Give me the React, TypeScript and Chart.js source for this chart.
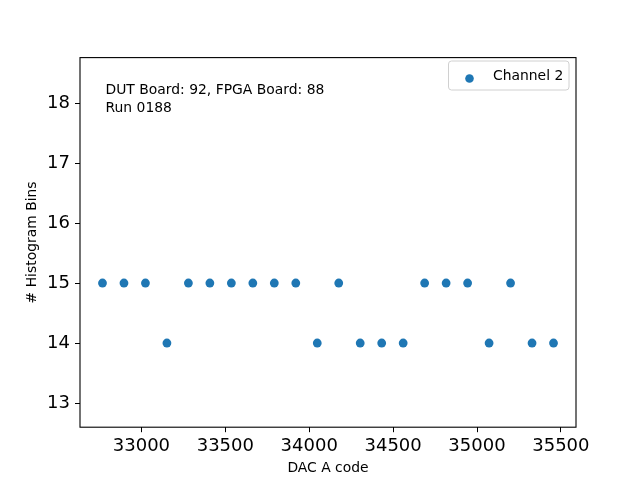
import React, { useEffect, useRef } from "react";
import { Chart, registerables } from "chart.js";

Chart.register(...registerables);

const dacCodes = [
  32768, 32896, 33024, 33152, 33280, 33408, 33536, 33664, 33792, 33920, 34048,
  34176, 34304, 34432, 34560, 34688, 34816, 34944, 35072, 35200, 35328, 35456,
];
const histBins = [15, 15, 15, 14, 15, 15, 15, 15, 15, 15, 14, 15, 14, 14, 14, 15, 15, 15, 14, 15, 14, 14];
const xTicks = [33000, 33500, 34000, 34500, 35000, 35500];
const yTicks = [13, 14, 15, 16, 17, 18];
const seriesLabel = "Channel 2";
const annotationLines = ["DUT Board: 92, FPGA Board: 88", "Run 0188"];
const xTitle = "DAC A code";
const yTitle = "# Histogram Bins";

const FONT = "'DejaVu Sans', sans-serif";
const BLUE = "#1f77b4";

export default function App() {
  const ref = useRef<HTMLCanvasElement | null>(null);

  useEffect(() => {
    document.body.style.margin = "0";
    const canvas = ref.current;
    if (!canvas) return;

    const overlay = {
      id: "overlay",
      afterDraw(chart: any) {
        const ctx = chart.ctx;
        const a = chart.chartArea;
        ctx.save();
        // spines
        ctx.strokeStyle = "#000";
        ctx.lineWidth = 1.1;
        ctx.strokeRect(a.left, a.top, a.right - a.left, a.bottom - a.top);
        // annotation
        ctx.fillStyle = "#000";
        ctx.font = `13.9px ${FONT}`;
        ctx.textAlign = "left";
        ctx.textBaseline = "middle";
        annotationLines.forEach((t, i) => {
          ctx.fillText(t, 105.5, 90.5 + i * 17.5);
        });
        // legend
        const lx = 448.5, ly = 61, lw = 120.5, lh = 29, r = 3;
        ctx.beginPath();
        ctx.moveTo(lx + r, ly);
        ctx.lineTo(lx + lw - r, ly);
        ctx.arcTo(lx + lw, ly, lx + lw, ly + r, r);
        ctx.lineTo(lx + lw, ly + lh - r);
        ctx.arcTo(lx + lw, ly + lh, lx + lw - r, ly + lh, r);
        ctx.lineTo(lx + r, ly + lh);
        ctx.arcTo(lx, ly + lh, lx, ly + lh - r, r);
        ctx.lineTo(lx, ly + r);
        ctx.arcTo(lx, ly, lx + r, ly, r);
        ctx.closePath();
        ctx.fillStyle = "rgba(255,255,255,0.8)";
        ctx.fill();
        ctx.strokeStyle = "#d0d0d0";
        ctx.lineWidth = 1;
        ctx.stroke();
        ctx.beginPath();
        ctx.arc(469.5, 78.5, 4.3, 0, Math.PI * 2);
        ctx.fillStyle = BLUE;
        ctx.fill();
        ctx.fillStyle = "#000";
        ctx.font = `13.9px ${FONT}`;
        ctx.textBaseline = "middle";
        ctx.fillText(chart.data.datasets[0].label, 493, 76);
        ctx.restore();
      },
    };

    const chart = new Chart(canvas, {
      type: "scatter",
      data: {
        datasets: [
          {
            label: seriesLabel,
            data: dacCodes.map((x, i) => ({ x, y: histBins[i] })),
            backgroundColor: BLUE,
            pointBackgroundColor: BLUE,
            pointBorderColor: BLUE,
            borderWidth: 0,
            pointBorderWidth: 0,
            pointRadius: 4.4,
            pointHoverRadius: 4.4,
            showLine: false,
          },
        ],
      },
      options: {
        responsive: false,
        animation: false,
        devicePixelRatio: 1,
        color: "#000",
        layout: { padding: { left: 20, top: 57.6, right: 64, bottom: 0 } },
        plugins: {
          legend: { display: false },
          tooltip: { enabled: false },
        },
        scales: {
          x: {
            type: "linear",
            min: 32634,
            max: 35590,
            afterBuildTicks: (s: any) => {
              s.ticks = xTicks.map((v) => ({ value: v }));
            },
            afterFit: (s: any) => {
              s.height = 52.8;
            },
            ticks: {
              color: "#000",
              font: { family: FONT, size: 18 },
              padding: 3,
              maxRotation: 0,
              autoSkip: false,
              callback: (v: any) => String(v),
            },
            grid: {
              display: true,
              drawOnChartArea: false,
              drawTicks: true,
              tickLength: 5,
              tickColor: "#000",
              tickWidth: 1,
            },
            border: { display: false },
            title: {
              display: true,
              text: xTitle,
              color: "#000",
              font: { family: FONT, size: 13.9 },
              padding: { top: 4, bottom: 3 },
            },
          },
          y: {
            type: "linear",
            min: 12.597,
            max: 18.757,
            afterBuildTicks: (s: any) => {
              s.ticks = yTicks.map((v) => ({ value: v }));
            },
            afterFit: (s: any) => {
              s.width = 60;
            },
            ticks: {
              color: "#000",
              font: { family: FONT, size: 18 },
              padding: 5,
              autoSkip: false,
              callback: (v: any) => String(v),
            },
            grid: {
              display: true,
              drawOnChartArea: false,
              drawTicks: true,
              tickLength: 5,
              tickColor: "#000",
              tickWidth: 1,
            },
            border: { display: false },
            title: {
              display: true,
              text: yTitle,
              color: "#000",
              font: { family: FONT, size: 13.9 },
              padding: { top: 4, bottom: 4 },
            },
          },
        },
      },
      plugins: [overlay],
    } as any);

    return () => chart.destroy();
  }, []);

  return (
    <div style={{ position: "fixed", left: 0, top: 0, width: 640, height: 480, background: "#fff" }}>
      <canvas ref={ref} width={640} height={480} />
    </div>
  );
}
